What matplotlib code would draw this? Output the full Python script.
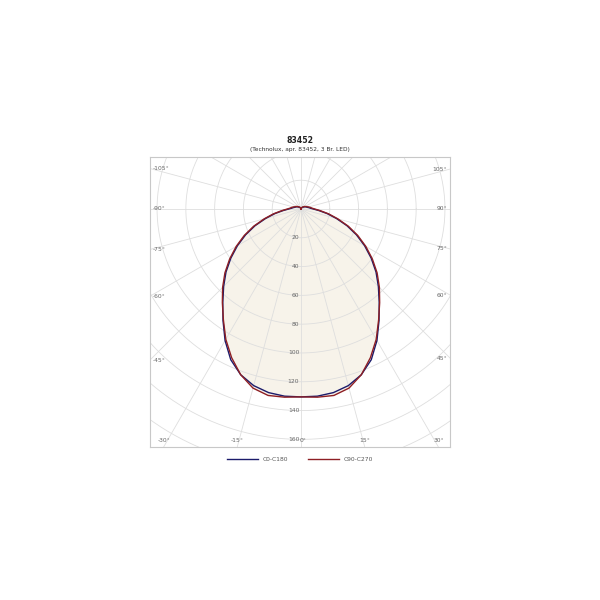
import numpy as np
import matplotlib
matplotlib.use("Agg")
import matplotlib.pyplot as plt

# ---- data ----
gamma = list(range(0, 181, 5))  # degrees from nadir
c0_c180 = [130.5, 130.5, 129.5, 127, 122.5, 115.5, 105.5, 94.5, 84.5, 76, 68, 59.5,
           51, 42.5, 34, 25.5, 18.5, 12.5, 8.5, 6.5, 5.5, 4.5, 4, 3.5, 3, 2.5, 2,
           1.8, 1.5, 1.2, 1, 0.8, 0.6, 0.4, 0.3, 0.1, 0]
c90_c270 = [130.5, 131.2, 131.5, 128.8, 122.5, 114, 104.5, 94, 85, 77, 69, 60.5,
            52, 43.5, 35, 26.5, 19.5, 13.5, 9.5, 7.5, 6.5, 5.5, 4.5, 4, 3.5, 3, 2.5,
            2, 1.8, 1.5, 1.2, 1, 0.8, 0.6, 0.4, 0.2, 0]
series_names = ["C0-C180", "C90-C270"]
series_colors = ["#1b1b6b", "#8e1f24"]
radial_ticks = [20, 40, 60, 80, 100, 120, 140, 160]
angle_labels = [-105, -90, -75, -60, -45, -30, -15, 0, 15, 30, 45, 60, 75, 90, 105]
title = "83452"
subtitle = "(Technolux, apr. 83452, 3 Br. LED)"

fig = plt.figure(figsize=(6, 6), dpi=100)
ax = fig.add_axes([0.25, 0.255, 0.5, 0.4833])
xmin, xmax, ymin, ymax = -104.9, 103.5, -165.3, 36.1
ax.set_xlim(xmin, xmax)
ax.set_ylim(ymin, ymax)
ax.set_xticks([])
ax.set_yticks([])
for s in ax.spines.values():
    s.set_color("#c8c8c8")
    s.set_linewidth(0.8)

grid_c = "#dedede"
# circles
t = np.linspace(0, 2 * np.pi, 400)
for r in range(20, 241, 20):
    ax.plot(r * np.cos(t), r * np.sin(t), color=grid_c, lw=0.6, zorder=1)
# radial lines every 15 deg
for a in range(0, 360, 15):
    ar = np.radians(a)
    ax.plot([0, 300 * np.sin(ar)], [0, -300 * np.cos(ar)], color=grid_c, lw=0.6, zorder=1)


def curve(vals):
    g = np.radians(np.array(gamma, dtype=float))
    v = np.array(vals, dtype=float)
    xl = -v[::-1] * np.sin(g[::-1])
    yl = -v[::-1] * np.cos(g[::-1])
    xr = v * np.sin(g)
    yr = -v * np.cos(g)
    return np.concatenate([xl, xr[1:]]), np.concatenate([yl, yr[1:]])


xf, yf = curve(c90_c270)
ax.fill(xf, yf, color="#f7f3ea", zorder=0.5, lw=0)

for vals, name, col in zip([c0_c180, c90_c270], series_names, series_colors):
    x, y = curve(vals)
    ax.plot(x, y, color=col, lw=1.0, label=name, zorder=3)

tc = "#666666"
fs = 4.3
for r in radial_ticks:
    ax.text(-1.2, -r, str(r), ha="right", va="center", fontsize=fs, color=tc, zorder=4)

# angle labels at box edge
for a in angle_labels:
    ar = np.radians(a)
    dx, dy = np.sin(ar), -np.cos(ar)
    ts = []
    if dx < -1e-9:
        ts.append((xmin / dx, "left"))
    if dx > 1e-9:
        ts.append((xmax / dx, "right"))
    if dy < -1e-9:
        ts.append((ymin / dy, "bottom"))
    tmin, edge = min(ts)
    px, py = tmin * dx, tmin * dy
    lab = f"{a}°"
    if edge == "left":
        ax.text(xmin + 1.9, py, lab, ha="left", va="center", fontsize=fs, color=tc, zorder=4)
    elif edge == "right":
        ax.text(xmax - 1.9, py, lab, ha="right", va="center", fontsize=fs, color=tc, zorder=4)
    else:
        ax.text(px + (1.5 if a == 0 else 0), ymin + 4.2, lab, ha="center", va="center",
                fontsize=fs, color=tc, zorder=4)

fig.text(0.5, 1 - 140 / 600, title, ha="center", va="center", fontsize=5.6,
         fontweight="bold", color="#222222")
fig.text(0.5, 1 - 149.5 / 600, subtitle, ha="center", va="center", fontsize=4.2,
         color="#333333")

fig.legend(loc="center", bbox_to_anchor=(0.5, 1 - 459.5 / 600), ncol=2, frameon=False,
           fontsize=fs, handlelength=5.2, handletextpad=0.85, columnspacing=3.2,
           labelcolor="#555555")

fig.savefig("out.png", dpi=100, facecolor="white")
